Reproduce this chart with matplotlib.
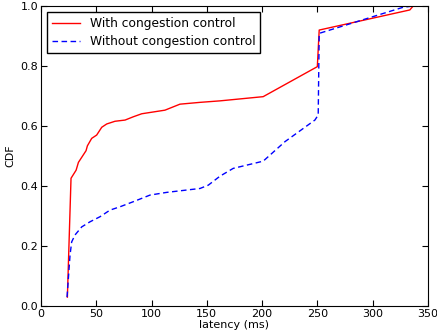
import matplotlib
matplotlib.use("Agg")
import matplotlib.pyplot as plt

# latency (ms) / CDF
with_lat = [23.8, 27.1, 31.7, 33.8, 40.7, 41.9, 45.8, 50.3, 54.9, 59.4, 66.9, 76.0,
            83.5, 91.1, 101.6, 112.1, 125.7, 143.8, 161.9, 201.0, 250.0, 251.7,
            333.7, 336.7]
with_cdf = [0.03, 0.426, 0.453, 0.479, 0.518, 0.534, 0.559, 0.57, 0.596, 0.607, 0.616, 0.62,
            0.631, 0.641, 0.647, 0.653, 0.673, 0.679, 0.684, 0.698, 0.798, 0.92,
            0.987, 1.0]

without_lat = [23.5, 26.2, 27.7, 30.7, 36.8, 44.3, 53.4, 62.4, 71.4, 83.5, 98.6, 113.7,
               143.8, 151.3, 161.9, 173.9, 201.0, 220.7, 247.8, 250.8, 251.7, 327.7, 336.7]
without_cdf = [0.03, 0.17, 0.214, 0.237, 0.264, 0.281, 0.298, 0.32, 0.331, 0.348, 0.37, 0.379,
               0.392, 0.403, 0.433, 0.459, 0.483, 0.548, 0.62, 0.637, 0.909, 0.996, 1.0]

plt.rcParams['font.family'] = 'DejaVu Sans'
fig = plt.figure(figsize=(4.37, 3.36), dpi=100)
ax = fig.add_axes([0.094, 0.089, 0.885, 0.893])

ax.plot(with_lat, with_cdf, color='red', lw=1, label='With congestion control')
ax.plot(without_lat, without_cdf, color='blue', lw=1, dashes=(4, 2.5),
        label='Without congestion control')

ax.set_xlim(0, 350)
ax.set_ylim(0, 1.0)
ax.set_xticks([0, 50, 100, 150, 200, 250, 300, 350])
ax.set_yticks([0.0, 0.2, 0.4, 0.6, 0.8, 1.0])
ax.tick_params(direction='in', top=True, right=True, labelsize=8, length=4, pad=2)
ax.set_xlabel('latency (ms)', fontsize=8, labelpad=1)
ax.set_ylabel('CDF', fontsize=8, labelpad=4)

leg = ax.legend(loc='upper left', fontsize=8.8, fancybox=False, framealpha=1,
                edgecolor='black', handlelength=2.3, borderaxespad=0.5,
                labelspacing=0.4)
leg.get_frame().set_linewidth(1)

fig.savefig('out.png', dpi=100)
